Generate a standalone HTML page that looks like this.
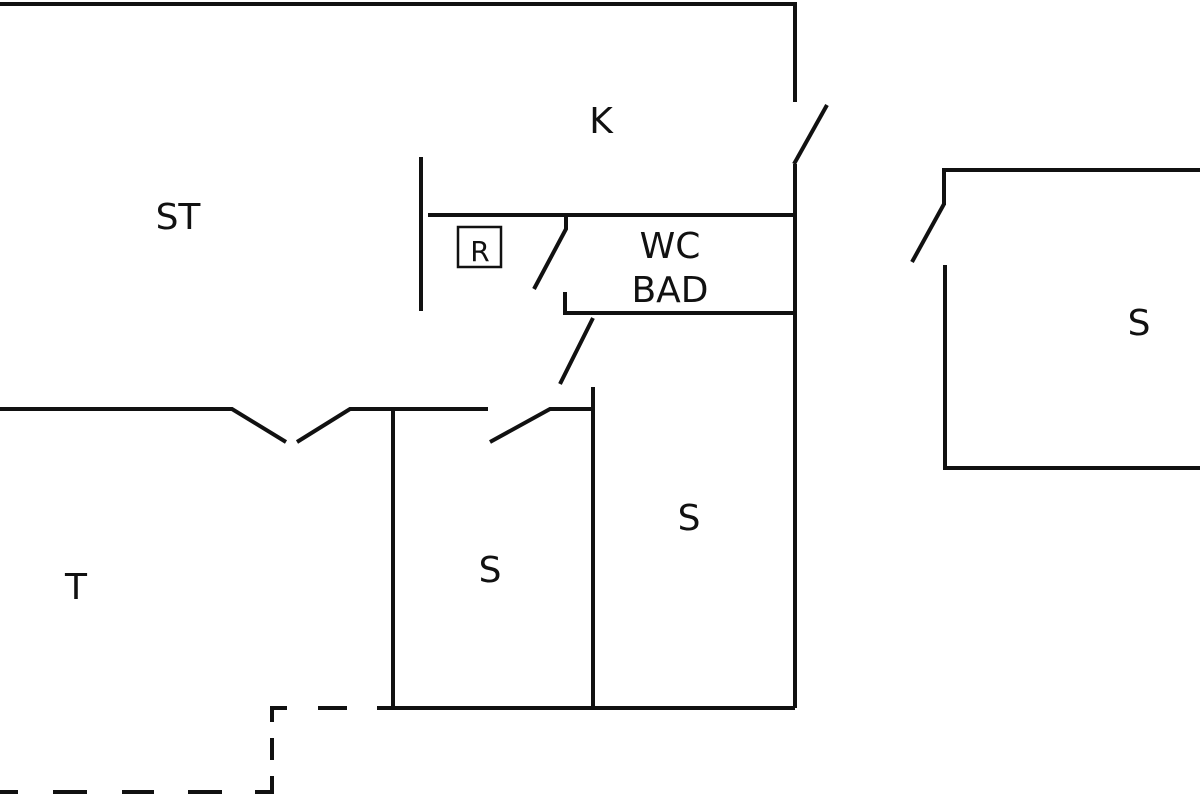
<!DOCTYPE html>
<html><head><meta charset="utf-8"><style>
html,body{margin:0;padding:0;background:#fff;}
svg{display:block;}
text{font-family:"DejaVu Sans","Liberation Sans",sans-serif;fill:#111;}
</style></head><body>
<svg width="1200" height="800" viewBox="0 0 1200 800" xmlns="http://www.w3.org/2000/svg">
<g stroke="#111" stroke-width="4" fill="none" stroke-linecap="butt">
<polyline points="0,4 795,4 795,102"/>
<line x1="794" y1="164" x2="827" y2="105"/>
<line x1="795" y1="164" x2="795" y2="708"/>
<line x1="421" y1="157" x2="421" y2="311"/>
<line x1="428" y1="215" x2="795" y2="215"/>
<rect x="458" y="227" width="43" height="40" stroke-width="2.5"/>
<polyline points="566,215 566,229 534,289"/>
<polyline points="565,292 565,313 795,313"/>
<line x1="593" y1="318" x2="560" y2="384"/>
<polyline points="0,409 232,409 286,442"/>
<polyline points="297,442 350,409 488,409"/>
<line x1="393" y1="409" x2="393" y2="708"/>
<polyline points="490,442 550,409 593,409"/>
<line x1="593" y1="387" x2="593" y2="708"/>
<line x1="377" y1="708" x2="795" y2="708"/>
<polyline points="944,205 944,170 1200,170"/>
<line x1="944" y1="204" x2="912" y2="262"/>
<polyline points="945,265 945,468 1200,468"/>
<polyline points="287,708 272,708 272,722"/>
<line x1="318" y1="708" x2="347" y2="708"/>
<line x1="272" y1="738" x2="272" y2="760"/>
<polyline points="272,776 272,792 255,792"/>
<line x1="188" y1="792" x2="222" y2="792"/>
<line x1="122" y1="792" x2="154" y2="792"/>
<line x1="53" y1="792" x2="87" y2="792"/>
<line x1="0" y1="792" x2="18" y2="792"/>
</g>
<g font-size="36" text-anchor="middle">
<text x="601" y="133">K</text>
<text x="178" y="229">ST</text>
<text x="480" y="261" font-size="28">R</text>
<text x="670" y="258">WC</text>
<text x="670" y="302">BAD</text>
<text x="1139" y="335">S</text>
<text x="689" y="530">S</text>
<text x="490" y="582">S</text>
<text x="76" y="599">T</text>
</g>
</svg>
</body></html>
